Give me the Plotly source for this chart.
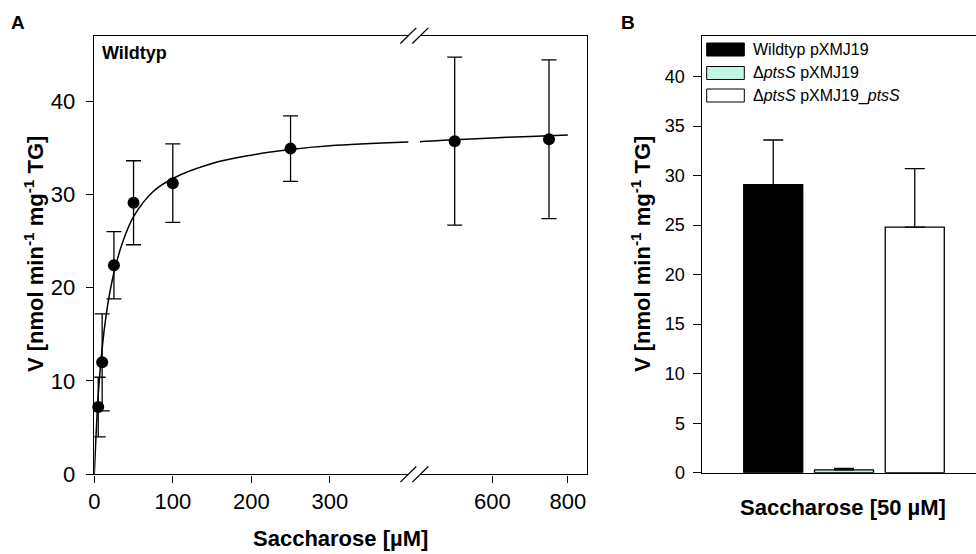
import plotly.graph_objects as go

# ---------------- data ----------------
# Panel A: Michaelis-Menten kinetics (Wildtyp)
conc_um = [5, 10, 25, 50, 100, 250, 500, 750]
rate = [7.2, 12.0, 22.4, 29.1, 31.2, 34.9, 35.7, 35.9]
rate_err = [3.2, 5.2, 3.6, 4.5, 4.2, 3.5, 9.0, 8.5]

# fitted curve
fit_conc = [0, 2, 5, 10, 15, 20, 25, 35, 50, 75, 100, 150, 200, 250, 300, 400, 500, 600, 700, 800]
fit_rate = [0, 3.8, 8.5, 13.5, 17.0, 19.6, 21.6, 24.6, 27.6, 30.3, 31.7, 33.3, 34.2, 34.8, 35.2,
            35.6, 35.85, 36.05, 36.2, 36.35]

seg1_ticks = [0, 100, 200, 300]
seg2_ticks = [600, 800]
yA_ticks = [0, 10, 20, 30, 40]

# Panel B: uptake at 50 µM Saccharose
strains = ["Wildtyp pXMJ19", "Δ<i>ptsS</i> pXMJ19", "Δ<i>ptsS</i> pXMJ19_<i>ptsS</i>"]
strain_rate = [29.1, 0.28, 24.8]
strain_err = [4.5, 0.15, 5.9]
strain_colors = ["#000000", "#c2f5e1", "#ffffff"]
yB_ticks = [0, 5, 10, 15, 20, 25, 30, 35, 40]

# ---------------- helpers ----------------
W, H = 976, 554
FONT = "Arial, Liberation Sans, sans-serif"


def px(x):
    return x / W


def py(y):
    return 1 - y / H


fig = go.Figure()

# split data on the broken axis
BREAK = 400
s1 = [(c, r, e) for c, r, e in zip(conc_um, rate, rate_err) if c < BREAK]
s2 = [(c, r, e) for c, r, e in zip(conc_um, rate, rate_err) if c >= BREAK]

for xa, ya in (("x", "y"), ("x2", "y2")):
    fig.add_trace(go.Scatter(x=fit_conc, y=fit_rate, mode="lines", line=dict(color="black", width=1.5, shape="spline"),
                             xaxis=xa, yaxis=ya, showlegend=False, hoverinfo="skip"))

for seg, (xa, ya) in ((s1, ("x", "y")), (s2, ("x2", "y2"))):
    fig.add_trace(go.Scatter(
        x=[p[0] for p in seg], y=[p[1] for p in seg], mode="markers",
        marker=dict(color="black", size=12),
        error_y=dict(type="data", array=[p[2] for p in seg], color="black", thickness=1.3, width=7.5),
        xaxis=xa, yaxis=ya, showlegend=False, cliponaxis=False))

for name, val, err, col in zip(strains, strain_rate, strain_err, strain_colors):
    fig.add_trace(go.Bar(
        x=["50"], y=[val], name=name, marker=dict(color=col, line=dict(color="black", width=1.3)),
        error_y=dict(type="data", symmetric=False, array=[err], arrayminus=[0], color="black",
                     thickness=1.3, width=10),
        xaxis="x3", yaxis="y3", showlegend=False))

axis_common = dict(showgrid=False, zeroline=False, showline=True, linecolor="black", linewidth=1.4,
                   ticks="outside", tickcolor="black", tickwidth=1.3, automargin=False)

A_top, A_bot = 35.7, 474.3
B_top, B_bot = 36.0, 472.7

fig.update_layout(
    width=W, height=H, margin=dict(l=0, r=0, t=0, b=0),
    paper_bgcolor="white", plot_bgcolor="white",
    font=dict(family=FONT, color="black"),
    barmode="group", bargap=0.254, bargroupgap=0.166,
    xaxis=dict(**axis_common, domain=[px(94.3), px(408.3)], range=[0, BREAK], tickvals=seg1_ticks,
               ticklen=7, mirror=True, anchor="y", tickfont=dict(size=22)),
    xaxis2=dict(**axis_common, domain=[px(420), px(586.7)], range=[408, 850], tickvals=seg2_ticks,
                ticklen=7, mirror=True, anchor="y2", tickfont=dict(size=22)),
    yaxis=dict(**axis_common, domain=[py(A_bot), py(A_top)], range=[0, 47], tickvals=yA_ticks,
               ticklen=7.5, anchor="x", tickfont=dict(size=22), ticklabelstandoff=6),
    yaxis2=dict(showgrid=False, zeroline=False, showline=True, linecolor="black", linewidth=1.4,
                domain=[py(A_bot), py(A_top)], matches="y", anchor="x2", side="right",
                showticklabels=False, ticks=""),
    xaxis3=dict(**{k: v for k, v in axis_common.items() if k != "ticks"}, ticks="",
                domain=[px(701.7), 1], range=[-0.5, 0.4638], mirror=True, anchor="y3",
                showticklabels=False, type="category"),
    yaxis3=dict(**axis_common, domain=[py(B_bot), py(B_top)], range=[0, 44.1], tickvals=yB_ticks,
                ticklen=8, anchor="x3", tickfont=dict(size=18), ticklabelstandoff=4),
)

shapes = []
# axis break marks (top and bottom)
for yc in (A_top, A_bot):
    for xc in (408.3, 420.3):
        shapes.append(dict(type="line", xref="paper", yref="paper",
                           x0=px(xc - 8), y0=py(yc + 7.8), x1=px(xc + 8), y1=py(yc - 7.8),
                           line=dict(color="black", width=1.3)))

# custom legend for panel B
annotations = []
leg_rows = [49.5, 73.0, 95.5]
for row_y, name, col in zip(leg_rows, strains, strain_colors):
    shapes.append(dict(type="rect", xref="paper", yref="paper",
                       x0=px(706.7), x1=px(744.3), y0=py(row_y + 6.5), y1=py(row_y - 6.5),
                       fillcolor=col, line=dict(color="black", width=1)))
    annotations.append(dict(text=name, x=px(751), y=py(row_y), xref="paper", yref="paper",
                            xanchor="left", yanchor="middle", showarrow=False, font=dict(size=16)))

annotations += [
    dict(text="<b>A</b>", x=px(18), y=py(22), font=dict(size=19)),
    dict(text="<b>B</b>", x=px(628), y=py(22), font=dict(size=19)),
    dict(text="<b>Wildtyp</b>", x=px(100), y=py(53), xanchor="left", font=dict(size=18)),
    dict(text="<b>Saccharose [µM]</b>", x=px(340.5), y=py(553), yanchor="bottom", font=dict(size=22)),
    dict(text="<b>Saccharose [50 µM]</b>", x=px(842.5), y=py(507), font=dict(size=22)),
    dict(text="<b>V [nmol min<sup>-1</sup> mg<sup>-1</sup> TG]</b>", x=px(34), y=py(254),
         textangle=-90, font=dict(size=22)),
    dict(text="<b>V [nmol min<sup>-1</sup> mg<sup>-1</sup> TG]</b>", x=px(641), y=py(254),
         textangle=-90, font=dict(size=22)),
]
for a in annotations:
    a.setdefault("xref", "paper")
    a.setdefault("yref", "paper")
    a.setdefault("showarrow", False)
    a.setdefault("xanchor", "center")
    a.setdefault("yanchor", "middle")

fig.update_layout(shapes=shapes, annotations=annotations)

fig.write_html("out.html", config={"displayModeBar": False},
               post_script="document.body.style.margin='0';document.body.style.overflow='hidden';")
